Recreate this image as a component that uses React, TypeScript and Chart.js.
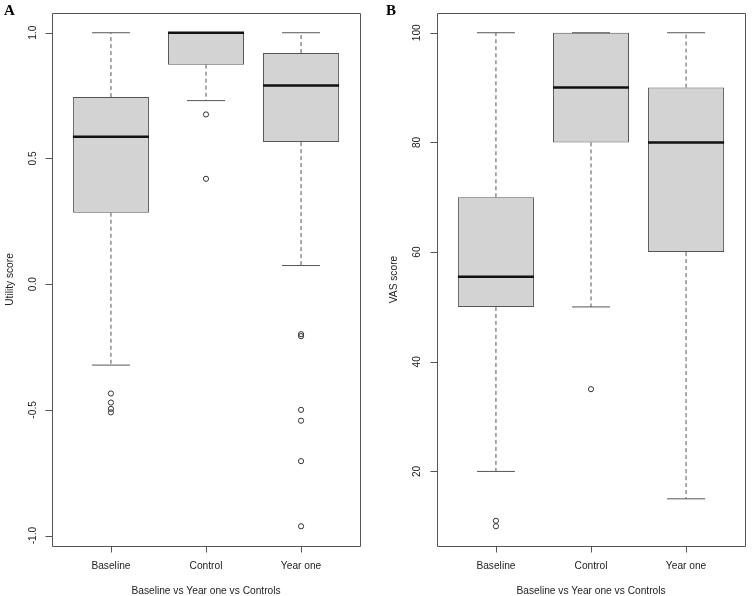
import { useEffect, useRef } from 'react';
import { Chart, registerables } from 'chart.js';

Chart.register(...registerables);

const groups = ['Baseline', 'Control', 'Year one'];
const axisTitle = 'Baseline vs Year one vs Controls';

// Utility score: five-number summaries per group plus outliers
const utilityLower = [-0.322, 0.73, 0.074];
const utilityQ1 = [0.284, 0.873, 0.565];
const utilityMedian = [0.586, 1.0, 0.79];
const utilityQ3 = [0.744, 1.0, 0.919];
const utilityUpper = [1.0, 1.0, 1.0];
const utilityOutliers = [
  [-0.435, -0.471, -0.496, -0.51],
  [0.675, 0.419],
  [-0.199, -0.207, -0.5, -0.543, -0.704, -0.963],
];
const utilityTicks = [-1.0, -0.5, 0.0, 0.5, 1.0];

// VAS score: five-number summaries per group plus outliers
const vasLower = [20, 50, 15];
const vasQ1 = [50, 80, 60];
const vasMedian = [55.5, 90, 80];
const vasQ3 = [70, 100, 90];
const vasUpper = [100, 100, 100];
const vasOutliers = [[11, 10], [35], []];
const vasTicks = [20, 40, 60, 80, 100];

const BOX_WIDTH = 0.8; // fraction of group spacing
const STAPLE_WIDTH = BOX_WIDTH / 2;
const FONT = { family: '"Liberation Sans", Arial, sans-serif', size: 10.2 };
const TEXT = '#222';
const LINE = '#555';
const Y_TICK_LEN = 7;
const X_TICK_LEN = 6;

type Summary = {
  lower: number[];
  q1: number[];
  median: number[];
  q3: number[];
  upper: number[];
  outliers: number[][];
};

function buildDatasets(s: Summary) {
  const xs = groups.map((_, i) => i + 1);
  const half = BOX_WIDTH / 2;
  const st = STAPLE_WIDTH / 2;
  const gap = (x: number) => ({ x, y: null as number | null });

  const medians = xs.flatMap((x, i) => [
    { x: x - half, y: s.median[i] },
    { x: x + half, y: s.median[i] },
    gap(x + half),
  ]);
  const whiskers = xs.flatMap((x, i) => [
    { x, y: s.q3[i] },
    { x, y: s.upper[i] },
    gap(x),
    { x, y: s.q1[i] },
    { x, y: s.lower[i] },
    gap(x),
  ]);
  const staples = xs.flatMap((x, i) => [
    { x: x - st, y: s.upper[i] },
    { x: x + st, y: s.upper[i] },
    gap(x + st),
    { x: x - st, y: s.lower[i] },
    { x: x + st, y: s.lower[i] },
    gap(x + st),
  ]);
  const points = xs.flatMap((x, i) => s.outliers[i].map((y) => ({ x, y })));
  const boxes = xs.map((x, i) => ({ x, y: [s.q1[i], s.q3[i]] }));

  const lineBase = {
    type: 'line' as const,
    pointRadius: 0,
    pointHoverRadius: 0,
    spanGaps: false,
    fill: false,
    tension: 0,
    borderCapStyle: 'butt' as const,
  };

  return [
    { ...lineBase, label: 'median', data: medians, borderColor: '#111', borderWidth: 2.5 },
    {
      type: 'scatter' as const,
      label: 'outliers',
      data: points,
      pointRadius: 2.6,
      pointBorderWidth: 1,
      pointBorderColor: '#333',
      pointBackgroundColor: 'rgba(0,0,0,0)',
      showLine: false,
    },
    { ...lineBase, label: 'whiskers', data: whiskers, borderColor: LINE, borderWidth: 1, borderDash: [4, 3] },
    { ...lineBase, label: 'staples', data: staples, borderColor: LINE, borderWidth: 1 },
    {
      type: 'bar' as const,
      label: 'box',
      data: boxes,
      backgroundColor: '#d3d3d3',
      borderColor: LINE,
      borderWidth: 1,
      borderSkipped: false,
      categoryPercentage: 1,
      barPercentage: BOX_WIDTH,
    },
  ];
}

function yRange(s: Summary) {
  const all = [...s.lower, ...s.upper, ...s.outliers.flat()];
  const lo = Math.min(...all);
  const hi = Math.max(...all);
  const pad = (hi - lo) * 0.04;
  return { min: lo - pad, max: hi + pad };
}

type PanelProps = {
  tag: string;
  summary: Summary;
  ticks: number[];
  decimals: number;
  yTitle: string;
  axisWidth: number;
  rightPad: number;
  titlePad: number;
  labelPad: number;
};

function Panel({ tag, summary, ticks, decimals, yTitle, axisWidth, rightPad, titlePad, labelPad }: PanelProps) {
  const ref = useRef<HTMLCanvasElement | null>(null);

  useEffect(() => {
    if (!ref.current) return;
    const { min, max } = yRange(summary);

    // plot frame, outward tick marks and the panel tag
    const frame = {
      id: 'frame',
      afterDraw(chart: Chart) {
        const { ctx, chartArea } = chart;
        const xs = chart.scales.x;
        const ys = chart.scales.y;
        const L = Math.round(chartArea.left) + 0.5;
        const T = Math.round(chartArea.top) + 0.5;
        const R = Math.round(chartArea.right) + 0.5;
        const B = Math.round(chartArea.bottom) + 0.5;
        ctx.save();
        ctx.setLineDash([]);
        ctx.strokeStyle = LINE;
        ctx.lineWidth = 1;
        ctx.beginPath();
        ctx.rect(L, T, R - L, B - T);
        for (const v of ticks) {
          const py = Math.round(ys.getPixelForValue(v)) + 0.5;
          ctx.moveTo(L - Y_TICK_LEN, py);
          ctx.lineTo(L, py);
        }
        groups.forEach((_, i) => {
          const px = Math.round(xs.getPixelForValue(i + 1)) + 0.5;
          ctx.moveTo(px, B);
          ctx.lineTo(px, B + X_TICK_LEN);
        });
        ctx.stroke();
        ctx.fillStyle = '#000';
        ctx.font = 'bold 15px "Liberation Serif", "Times New Roman", serif';
        ctx.textBaseline = 'alphabetic';
        ctx.textAlign = 'left';
        ctx.fillText(tag, tag === 'A' ? 4 : 10, 14.5);
        ctx.restore();
      },
    };

    const chart = new Chart(ref.current, {
      type: 'bar',
      data: { datasets: buildDatasets(summary) as any },
      options: {
        animation: false,
        responsive: false,
        events: [],
        layout: { padding: { left: 0, right: rightPad, top: 13, bottom: 0 } },
        plugins: { legend: { display: false }, tooltip: { enabled: false } },
        scales: {
          x: {
            type: 'linear',
            min: 0.38,
            max: 3.62,
            offset: false,
            afterBuildTicks: (s: any) => {
              s.ticks = groups.map((_, i) => ({ value: i + 1 }));
            },
            afterFit: (s: any) => {
              s.height = 50;
            },
            ticks: {
              autoSkip: false,
              maxRotation: 0,
              padding: 8,
              font: FONT,
              color: TEXT,
              callback: (_v: any, i: number) => groups[i],
            },
            grid: { display: false, offset: false, drawOnChartArea: false, drawTicks: true, tickLength: X_TICK_LEN },
            border: { display: false },
            title: { display: true, text: axisTitle, font: FONT, color: TEXT, padding: { top: 0, bottom: -1 } },
          },
          y: {
            type: 'linear',
            min,
            max,
            afterBuildTicks: (s: any) => {
              s.ticks = ticks.map((v) => ({ value: v }));
            },
            afterFit: (s: any) => {
              s.width = axisWidth;
            },
            ticks: {
              minRotation: 90,
              maxRotation: 90,
              crossAlign: 'center',
              padding: labelPad,
              font: FONT,
              color: TEXT,
              callback: (v: any) => Number(v).toFixed(decimals),
            },
            grid: { display: false, drawOnChartArea: false, drawTicks: true, tickLength: Y_TICK_LEN },
            border: { display: false },
            title: { display: true, text: yTitle, font: FONT, color: TEXT, padding: { top: titlePad, bottom: 0 } },
          },
        },
      },
      plugins: [frame],
    });
    return () => chart.destroy();
  }, [tag, summary, ticks, decimals, yTitle, axisWidth, rightPad, titlePad, labelPad]);

  return <canvas ref={ref} width={376} height={596} style={{ display: 'block', width: 376, height: 596 }} />;
}

const utility: Summary = {
  lower: utilityLower,
  q1: utilityQ1,
  median: utilityMedian,
  q3: utilityQ3,
  upper: utilityUpper,
  outliers: utilityOutliers,
};

const vas: Summary = {
  lower: vasLower,
  q1: vasQ1,
  median: vasMedian,
  q3: vasQ3,
  upper: vasUpper,
  outliers: vasOutliers,
};

export default function App() {
  return (
    <div
      style={{
        position: 'fixed',
        left: 0,
        top: 0,
        width: 752,
        height: 596,
        display: 'flex',
        background: '#fff',
      }}
    >
      <Panel
        tag="A"
        summary={utility}
        ticks={utilityTicks}
        decimals={1}
        yTitle="Utility score"
        axisWidth={52}
        rightPad={16}
        titlePad={4}
        labelPad={3}
      />
      <Panel
        tag="B"
        summary={vas}
        ticks={vasTicks}
        decimals={0}
        yTitle="VAS score"
        axisWidth={61}
        rightPad={7}
        titlePad={12}
        labelPad={4}
      />
    </div>
  );
}
